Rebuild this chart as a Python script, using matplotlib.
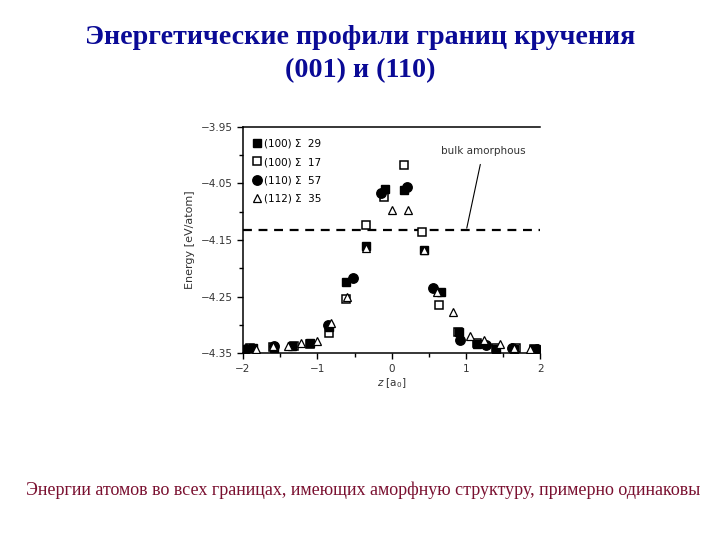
import numpy as np
import matplotlib.pyplot as plt
from matplotlib.ticker import MultipleLocator

# ---- data ----
title_text = "Энергетические профили границ кручения\n(001) и (110)"
caption_text = "Энергии атомов во всех границах, имеющих аморфную структуру, примерно одинаковы"

labels = ["(100) Σ  29", "(100) Σ  17", "(110) Σ  57", "(112) Σ  35"]

z_s29 = [-1.87, -1.58, -1.34, -1.10, -0.84, -0.61, -0.34, -0.09, 0.16, 0.43, 0.66, 0.90, 1.15, 1.41, 1.65, 1.91]
e_s29 = [-4.341, -4.341, -4.338, -4.332, -4.303, -4.224, -4.161, -4.059, -4.061, -4.167, -4.241, -4.313, -4.334, -4.342, -4.342, -4.343]

z_s17 = [-1.90, -1.59, -1.31, -1.10, -0.84, -0.61, -0.35, -0.10, 0.16, 0.41, 0.64, 0.89, 1.15, 1.41, 1.67, 1.91]
e_s17 = [-4.341, -4.339, -4.338, -4.333, -4.315, -4.254, -4.123, -4.074, -4.018, -4.135, -4.265, -4.312, -4.332, -4.341, -4.341, -4.343]

z_s57 = [-1.96, -1.58, -0.86, -0.52, -0.15, 0.20, 0.56, 0.92, 1.27, 1.62, 1.95]
e_s57 = [-4.342, -4.338, -4.300, -4.218, -4.067, -4.056, -4.235, -4.326, -4.336, -4.340, -4.342]

z_s35 = [-1.82, -1.59, -1.40, -1.22, -1.01, -0.81, -0.60, -0.35, 0.01, 0.22, 0.43, 0.61, 0.83, 1.05, 1.24, 1.46, 1.64, 1.86]
e_s35 = [-4.343, -4.337, -4.338, -4.332, -4.328, -4.296, -4.250, -4.164, -4.097, -4.097, -4.168, -4.241, -4.278, -4.320, -4.326, -4.333, -4.340, -4.343]

bulk_amorphous = -4.133
y_ticks = [-3.95, -4.05, -4.15, -4.25, -4.35]
x_ticks = [-2, -1, 0, 1, 2]

fig = plt.figure(figsize=(7.2, 5.4), dpi=100)

# заголовок и подпись слайда
fig.text(0.5, 0.900, title_text, ha='center', va='center', fontsize=20.2,
         fontweight='bold', family='Liberation Serif', color='#0a0a96',
         linespacing=1.38)
fig.text(0.505, 0.092, caption_text, ha='center', va='center', fontsize=13.0,
         family='Liberation Serif', color='#7a1030')

ax = fig.add_axes([0.3375, 0.346, 0.413, 0.419])

ms = 6.3
ax.plot(z_s17, e_s17, 's', mfc='white', mec='black', mew=1.1, ms=ms, label=labels[1], zorder=2.5)
ax.plot(z_s29, e_s29, 's', color='black', ms=ms, label=labels[0], zorder=3)
ax.plot(z_s57, e_s57, 'o', color='black', ms=ms + 0.5, label=labels[2], zorder=3)
ax.plot(z_s35, e_s35, '^', mfc='white', mec='black', mew=0.9, ms=ms - 0.5, label=labels[3], zorder=5)

ax.axhline(bulk_amorphous, color='black', ls=(0, (4, 3)), lw=1.6, zorder=2)
ax.annotate('bulk amorphous', xy=(1.01, -4.129), xytext=(1.23, -3.993),
            ha='center', va='center', fontsize=7.5, color='#333333',
            arrowprops=dict(arrowstyle='-', color='black', lw=0.8,
                            shrinkA=4, shrinkB=0))

ax.set_xlim(-2, 2)
ax.set_ylim(-4.35, -3.95)
ax.set_xticks(x_ticks)
ax.set_yticks(y_ticks)
ax.set_yticklabels([f'{v:.2f}'.replace('-', '\u2212') for v in y_ticks])
ax.xaxis.set_minor_locator(MultipleLocator(0.5))
ax.yaxis.set_minor_locator(MultipleLocator(0.05))
ax.tick_params(which='both', direction='out', labelsize=7.5, labelcolor='#333333',
               top=False, right=False, width=1.0)
ax.tick_params(which='major', length=4)
ax.tick_params(which='minor', length=3)
ax.spines['right'].set_visible(False)
for side in ['left', 'top', 'bottom']:
    ax.spines[side].set_linewidth(1.1)

ax.set_xlabel(r'$z$ [a$_0$]', fontsize=7.5, color='#333333', labelpad=2)
ax.set_ylabel('Energy [eV/atom]', fontsize=8, color='#333333', labelpad=4)

# порядок легенды как в оригинале
handles, hlabels = ax.get_legend_handles_labels()
order = [hlabels.index(l) for l in labels]
ax.legend([handles[i] for i in order], [hlabels[i] for i in order],
          loc='upper left', frameon=False, fontsize=7.5, handletextpad=0.1,
          borderaxespad=0.3, labelspacing=0.8, handlelength=1.2,
          bbox_to_anchor=(0.0, 0.98))

fig.savefig('out.png', dpi=100)
